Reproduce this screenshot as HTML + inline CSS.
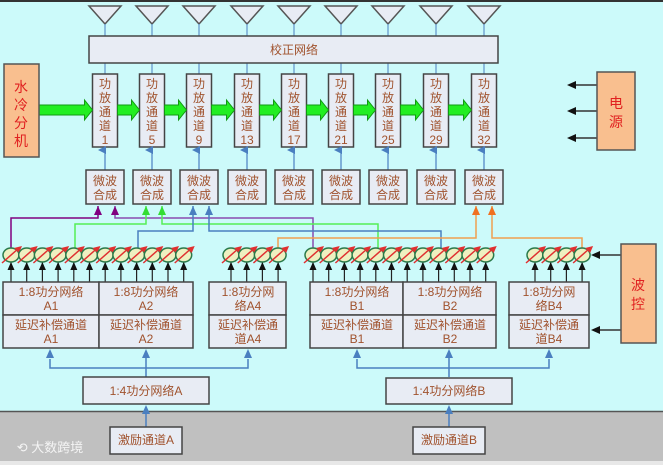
<!DOCTYPE html>
<html><head><meta charset="utf-8"><style>
html,body{margin:0;padding:0;background:#ccfafa;}
svg{display:block;}
text{font-family:"Liberation Sans","Noto Sans CJK SC",sans-serif;fill:#a0522d;font-size:12px;text-anchor:middle;}
</style></head><body>
<svg id="s" width="663" height="465" viewBox="0 0 663 465" xmlns="http://www.w3.org/2000/svg">
<defs>
<marker id="ab" markerWidth="8" markerHeight="8" refX="4" refY="7" orient="auto-start-reverse" markerUnits="userSpaceOnUse"><path d="M0,8 L4,0 L8,8z" fill="#4a7fc0"/></marker>
</defs>
<rect x="0" y="0" width="663" height="465" fill="#ccfafa"/>
<rect x="0" y="0" width="663" height="2" fill="#333"/>
<rect x="0" y="411" width="663" height="50" fill="#c0c0c0"/>
<line x1="0" y1="411.5" x2="663" y2="411.5" stroke="#555" stroke-width="1.5"/>
<rect x="0" y="461" width="663" height="4" fill="#e8e8e8"/>
<g id="dyn"></g>
<!-- calibration -->
<rect x="89" y="36" width="409" height="27" fill="#e8ecf4" stroke="#444" stroke-width="1.5"/>
<text x="294" y="54" font-size="13">校正网络</text>
<!-- water cooling -->
<rect x="4" y="64" width="35" height="93" fill="#f9bf8f" stroke="#555" stroke-width="1.5"/>
<text x="21" y="92" style="fill:#e02020;font-size:14px">水</text>
<text x="21" y="110" style="fill:#e02020;font-size:14px">冷</text>
<text x="21" y="128" style="fill:#e02020;font-size:14px">分</text>
<text x="21" y="146" style="fill:#e02020;font-size:14px">机</text>
<!-- power -->
<rect x="597" y="72" width="38" height="78" fill="#f9bf8f" stroke="#555" stroke-width="1.5"/>
<text x="616" y="108" style="fill:#e02020;font-size:14px">电</text>
<text x="616" y="127" style="fill:#e02020;font-size:14px">源</text>
<!-- wave control -->
<rect x="621" y="244" width="35" height="99" fill="#f9bf8f" stroke="#555" stroke-width="1.5"/>
<text x="638" y="290" style="fill:#e02020;font-size:14px">波</text>
<text x="638" y="309" style="fill:#e02020;font-size:14px">控</text>
<!-- amp labels -->
<g id="amps">
<text x="105" y="88">功</text><text x="105" y="102">放</text><text x="105" y="116">通</text><text x="105" y="130">道</text><text x="105" y="144">1</text>
<text x="152" y="88">功</text><text x="152" y="102">放</text><text x="152" y="116">通</text><text x="152" y="130">道</text><text x="152" y="144">5</text>
<text x="199" y="88">功</text><text x="199" y="102">放</text><text x="199" y="116">通</text><text x="199" y="130">道</text><text x="199" y="144">9</text>
<text x="247" y="88">功</text><text x="247" y="102">放</text><text x="247" y="116">通</text><text x="247" y="130">道</text><text x="247" y="144">13</text>
<text x="294" y="88">功</text><text x="294" y="102">放</text><text x="294" y="116">通</text><text x="294" y="130">道</text><text x="294" y="144">17</text>
<text x="341" y="88">功</text><text x="341" y="102">放</text><text x="341" y="116">通</text><text x="341" y="130">道</text><text x="341" y="144">21</text>
<text x="388" y="88">功</text><text x="388" y="102">放</text><text x="388" y="116">通</text><text x="388" y="130">道</text><text x="388" y="144">25</text>
<text x="436" y="88">功</text><text x="436" y="102">放</text><text x="436" y="116">通</text><text x="436" y="130">道</text><text x="436" y="144">29</text>
<text x="484" y="88">功</text><text x="484" y="102">放</text><text x="484" y="116">通</text><text x="484" y="130">道</text><text x="484" y="144">32</text>
</g>
<g id="mw">
<text x="105" y="185">微波</text><text x="105" y="199">合成</text>
<text x="152" y="185">微波</text><text x="152" y="199">合成</text>
<text x="199" y="185">微波</text><text x="199" y="199">合成</text>
<text x="247" y="185">微波</text><text x="247" y="199">合成</text>
<text x="294" y="185">微波</text><text x="294" y="199">合成</text>
<text x="341" y="185">微波</text><text x="341" y="199">合成</text>
<text x="388" y="185">微波</text><text x="388" y="199">合成</text>
<text x="436" y="185">微波</text><text x="436" y="199">合成</text>
<text x="484" y="185">微波</text><text x="484" y="199">合成</text>
</g>
<g id="nets">
<text x="51" y="296">1:8功分网络</text><text x="51" y="310">A1</text>
<text x="146" y="296">1:8功分网络</text><text x="146" y="310">A2</text>
<text x="248" y="296">1:8功分网</text><text x="248" y="310">络A4</text>
<text x="357" y="296">1:8功分网络</text><text x="357" y="310">B1</text>
<text x="450" y="296">1:8功分网络</text><text x="450" y="310">B2</text>
<text x="549" y="296">1:8功分网</text><text x="549" y="310">络B4</text>
<text x="51" y="329">延迟补偿通道</text><text x="51" y="343">A1</text>
<text x="146" y="329">延迟补偿通道</text><text x="146" y="343">A2</text>
<text x="248" y="329">延迟补偿通</text><text x="248" y="343">道A4</text>
<text x="357" y="329">延迟补偿通道</text><text x="357" y="343">B1</text>
<text x="450" y="329">延迟补偿通道</text><text x="450" y="343">B2</text>
<text x="549" y="329">延迟补偿通</text><text x="549" y="343">道B4</text>
<text x="146" y="395">1:4功分网络A</text>
<text x="449" y="395">1:4功分网络B</text>
<text x="146" y="444">激励通道A</text>
<text x="449" y="444">激励通道B</text>
</g>
<text x="50" y="452" style="fill:#f4f4f4;font-size:13px">⟲ 大数跨境</text>
</svg>
<script>
const NS="http://www.w3.org/2000/svg",g=document.getElementById('dyn');
function el(t,a){const e=document.createElementNS(NS,t);for(const k in a)e.setAttribute(k,a[k]);g.appendChild(e);return e;}
const cs=[105,152,199,247,294,341,388,436,484];
const bf="#e8ecf4",bs="#444";
cs.forEach(c=>{
 el('path',{d:`M${c-16},6 L${c+16},6 L${c},24 Z`,fill:bf,stroke:'#555','stroke-width':1.5});
 el('line',{x1:c,y1:24,x2:c,y2:74,stroke:'#4a7fc0','stroke-width':1});
 el('rect',{x:c-12.5,y:74,width:25,height:73,fill:bf,stroke:bs,'stroke-width':1.5});
 el('line',{x1:c,y1:170,x2:c,y2:150,stroke:'#4a7fc0','stroke-width':1.2,'marker-end':'url(#ab)'});
 el('rect',{x:c-19,y:170,width:38,height:34,fill:bf,stroke:bs,'stroke-width':1.5});
});
// green arrows
const gx=[39].concat(cs.slice(0,8).map(c=>c+12.5));
gx.forEach((x,i)=>{const e=cs[i]-12.5;
 el('path',{d:`M${x},105 L${e-8},105 L${e-8},100 L${e},110 L${e-8},120 L${e-8},115 L${x},115 Z`,fill:'#22ee22',stroke:'#119911','stroke-width':1});});
// power arrows
[85,111,138].forEach(y=>{el('line',{x1:597,y1:y,x2:574,y2:y,stroke:'#333','stroke-width':1.5});el('path',{d:`M567,${y} L576,${y-4} L576,${y+4}Z`,fill:'#111'});});
// colored lines
function pl(pts,col,arrowAt){el('polyline',{points:pts.map(p=>p.join(',')).join(' '),fill:'none',stroke:col,'stroke-width':1.5});}
function up(x,y,col){el('path',{d:`M${x-4},${y+9} L${x},${y} L${x+4},${y+9}Z`,fill:col});}
pl([[11,255],[11,218],[98,218],[98,206]],'#800080');up(98,206,'#800080');
pl([[115,206],[115,218],[313,218],[313,255]],'#8a4ab0');up(115,206,'#800080');
pl([[75,255],[75,224],[146,224],[146,206]],'#55ee55');up(146,206,'#33dd33');
pl([[162,206],[162,224],[378,224],[378,255]],'#55ee55');up(162,206,'#33dd33');
pl([[138,255],[138,231],[193,231],[193,206]],'#4a7fc0');up(193,206,'#4a7fc0');
pl([[209,206],[209,231],[441,231],[441,255]],'#4a7fc0');up(209,206,'#4a7fc0');
pl([[278,255],[278,238],[476,238],[476,206]],'#f0a050');up(476,206,'#f07020');
pl([[492,206],[492,238],[582,238],[582,255]],'#f0a050');up(492,206,'#f07020');
// phase shifters
function ps(x){el('line',{x1:x,y1:282,x2:x,y2:262,stroke:'#222','stroke-width':1.2});el('path',{d:`M${x-3.5},270 L${x},262 L${x+3.5},270Z`,fill:'#111'});
 el('ellipse',{cx:x,cy:255,rx:8,ry:7,fill:'#eef0c0',stroke:'#2a7a4a','stroke-width':1.5});
 el('line',{x1:x-9,y1:263,x2:x+8,y2:248,stroke:'#e03030','stroke-width':1.5});el('path',{d:`M${x+11},246 L${x+3},248 L${x+8},253Z`,fill:'#e03030'});}
for(let i=0;i<12;i++)ps(11+i*15.7);
for(let i=0;i<4;i++)ps(231+i*15.7);
for(let i=0;i<12;i++)ps(313+i*15.7);
for(let i=0;i<4;i++)ps(535+i*15.7);
// wave control arrows
[255,330].forEach(y=>{el('line',{x1:621,y1:y,x2:598,y2:y,stroke:'#333','stroke-width':1.5});el('path',{d:`M591,${y} L600,${y-4} L600,${y+4}Z`,fill:'#111'});});
// networks
[[3,99],[99,193],[209,286],[310,403],[403,496],[509,589]].forEach(([a,b])=>{
 el('rect',{x:a,y:282,width:b-a,height:33,fill:bf,stroke:bs,'stroke-width':1.5});
 el('rect',{x:a,y:315,width:b-a,height:33,fill:bf,stroke:bs,'stroke-width':1.5});});
// distribution
function dist(xs,mid,y0){el('polyline',{points:`${xs[0]},359 ${xs[0]},368 ${xs[2]},368 ${xs[2]},359`,fill:'none',stroke:'#4a7fc0','stroke-width':1.5});
 el('line',{x1:mid,y1:377,x2:mid,y2:357,stroke:'#4a7fc0','stroke-width':1.5});
 xs.forEach(x=>el('path',{d:`M${x-4},358 L${x},349 L${x+4},358Z`,fill:'#4a7fc0'}));
 el('line',{x1:mid,y1:427,x2:mid,y2:412,stroke:'#4a7fc0','stroke-width':1.5});el('path',{d:`M${mid-4},414 L${mid},405 L${mid+4},414Z`,fill:'#4a7fc0'});}
dist([50,146,248],146);dist([357,449,549],449);
el('rect',{x:83,y:377,width:126,height:27,fill:bf,stroke:bs,'stroke-width':1.5});
el('rect',{x:386,y:378,width:126,height:26,fill:bf,stroke:bs,'stroke-width':1.5});
el('rect',{x:110,y:427,width:72,height:27,fill:bf,stroke:bs,'stroke-width':1.5});
el('rect',{x:413,y:427,width:72,height:27,fill:bf,stroke:bs,'stroke-width':1.5});
</script>
</body></html>
